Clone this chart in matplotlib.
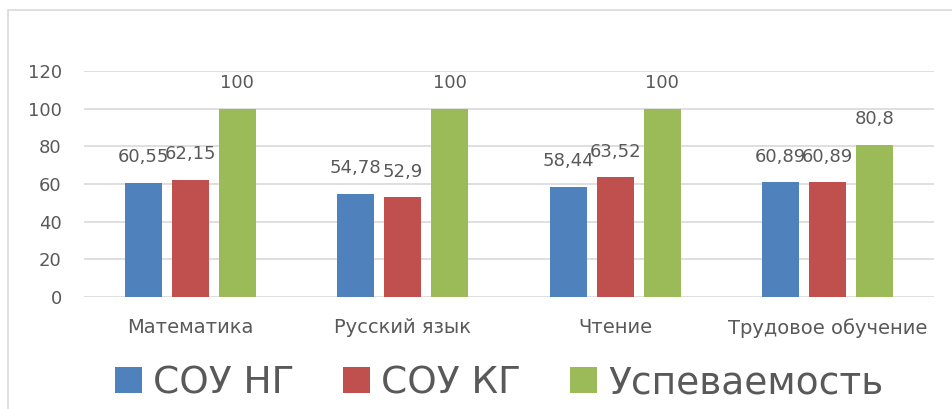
import numpy as np
import matplotlib
matplotlib.use("Agg")
import matplotlib.pyplot as plt
from matplotlib.patches import Rectangle

# данные
categories = ["Математика", "Русский язык", "Чтение", "Трудовое обучение"]
series_names = ["СОУ НГ", "СОУ КГ", "Успеваемость"]
sou_ng = [60.55, 54.78, 58.44, 60.89]
sou_kg = [62.15, 52.9, 63.52, 60.89]
uspev = [100, 100, 100, 80.8]
yticks = [0, 20, 40, 60, 80, 100, 120]

colors = ["#4F81BD", "#C0504D", "#9BBB59"]
text_color = "#595959"
grid_color = "#D9D9D9"

plt.rcParams['font.family'] = ['DejaVu Sans']

W, H = 952, 409
fig = plt.figure(figsize=(W / 100, H / 100), dpi=100)

# chart border
fig.patches.append(Rectangle((8 / W, -0.1), 1.2, 1 - 10 / H + 0.1, transform=fig.transFigure,
                             fill=False, edgecolor=grid_color, linewidth=1.2))

ax = fig.add_axes([84 / W, 1 - 297 / H, (934 - 84) / W, (297 - 71) / H])

x = np.arange(len(categories))
width = 0.174
step = 0.221
for i, (name, vals) in enumerate(zip(series_names, [sou_ng, sou_kg, uspev])):
    bars = ax.bar(x + (i - 1) * step, vals, width, color=colors[i], label=name, zorder=3)
    for b, v in zip(bars, vals):
        lbl = f"{v:g}".replace(".", ",")
        ax.annotate(lbl, (b.get_x() + b.get_width() / 2, v), xytext=(0, 12),
                    textcoords="offset points", ha="center", va="bottom",
                    fontsize=13, color=text_color, annotation_clip=False)

ax.set_xlim(-0.5, len(categories) - 0.5)
ax.set_ylim(0, 120)
ax.set_yticks(yticks)
ax.set_yticklabels([str(t) for t in yticks], fontsize=13, color=text_color)
ax.set_xticks(x)
ax.set_xticklabels(categories, fontsize=14, color=text_color)
ax.tick_params(axis="y", length=0, pad=16)
ax.tick_params(axis="x", length=0, pad=15)
ax.grid(axis="y", color=grid_color, linewidth=1.2, zorder=0)
for s in ax.spines.values():
    s.set_visible(False)

fig.legend(loc="center", bbox_to_anchor=(499 / W, 1 - 383 / H), ncol=3, frameon=False,
           fontsize=27, handlelength=0.72, handleheight=0.72, handletextpad=0.3,
           columnspacing=1.3, labelcolor=text_color, borderaxespad=0, borderpad=0)

fig.savefig("out.png", dpi=100)
